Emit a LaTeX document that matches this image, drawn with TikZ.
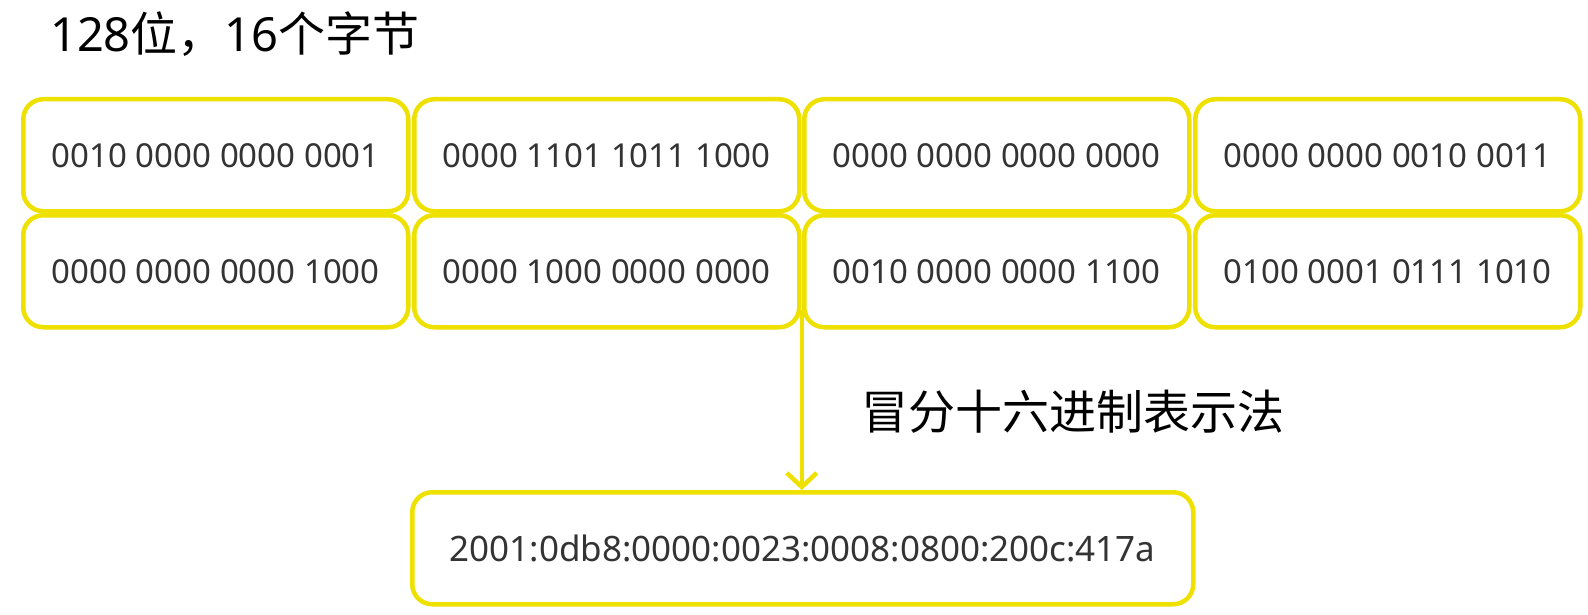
\documentclass[tikz,border=0pt]{standalone}
\usepackage{fontspec}
\setmainfont{Noto Sans}
\newfontfamily\cjk{Noto Sans CJK SC}
\usetikzlibrary{arrows.meta,calc}
\definecolor{ylw}{HTML}{EEE100}
\definecolor{txt}{HTML}{333333}
\tikzset{
  cell/.style={draw=ylw, line width=4.5pt, rounded corners=20pt, minimum width=385pt, minimum height=112pt, inner sep=0pt, text=txt, font=\fontsize{33}{40}\selectfont, anchor=north west},
  conn/.style={draw=ylw, line width=4.5pt, -{Straight Barb[length=14pt,width=30pt,line width=4.5pt]}},
}
\begin{document}
\begin{tikzpicture}[x=1pt,y=-1pt]
\useasboundingbox (0,0) rectangle (1588,615);
\node[anchor=west, inner sep=0pt, font=\fontsize{47}{56}\selectfont] (title) at (50,34) {128{\cjk 位，}16{\cjk 个字节}};
\node[cell] (b1) at (21,97) {0010 0000 0000 0001};
\node[cell] (b2) at (412,97) {0000 1101 1011 1000};
\node[cell] (b3) at (802,97) {0000 0000 0000 0000};
\node[cell] (b4) at (1193,97) {0000 0000 0010 0011};
\node[cell] (b5) at (21,213) {0000 0000 0000 1000};
\node[cell] (b6) at (412,213) {0000 1000 0000 0000};
\node[cell] (b7) at (802,213) {0010 0000 0000 1100};
\node[cell] (b8) at (1193,213) {0100 0001 0111 1010};
\node[cell, minimum width=781pt, font=\fontsize{35}{42}\selectfont] (res) at (410,490) {2001:0db8:0000:0023:0008:0800:200c:417a};
\node[anchor=west, inner sep=0pt, font=\cjk\fontsize{47}{56}\selectfont] (lbl) at (861,412) {冒分十六进制表示法};
\coordinate (start) at ($(b6.south east)!0.5!(b7.south west)+(0,-20)$);
\draw[conn] (start) -- (start |- res.north);
\end{tikzpicture}
\end{document}
